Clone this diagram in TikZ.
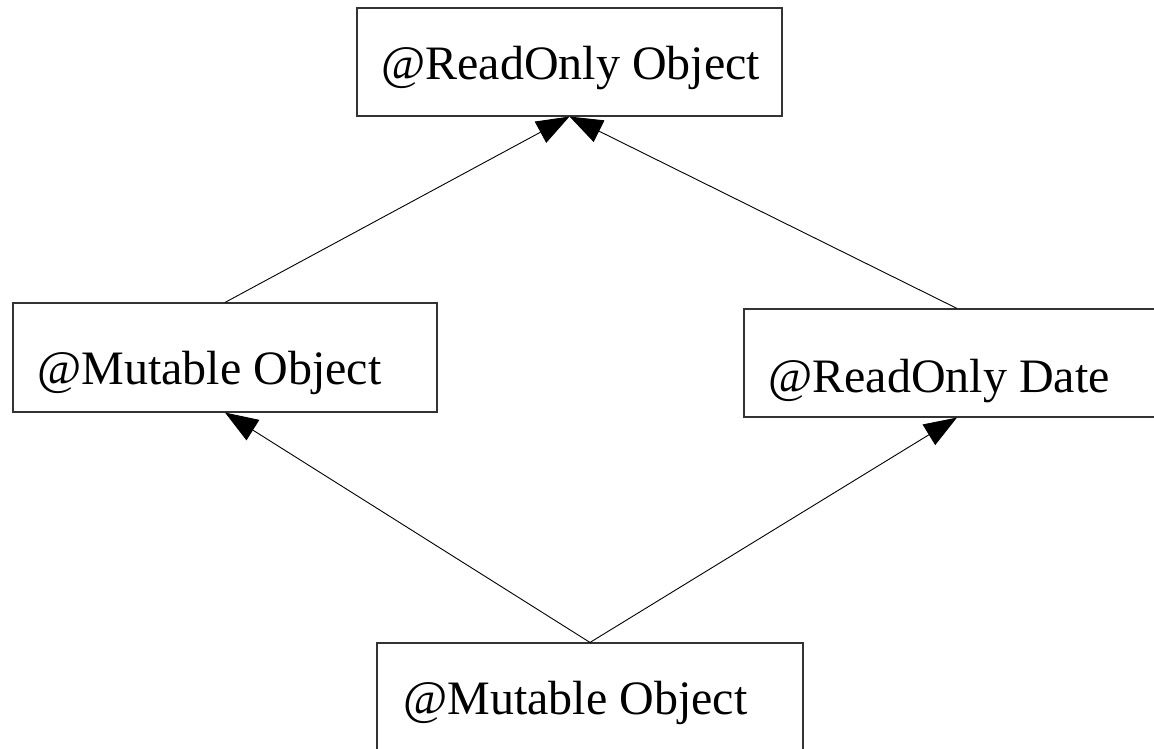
\documentclass[tikz,border=0pt]{standalone}
\usepackage{fontspec}
\setmainfont{Liberation Serif}
\usetikzlibrary{arrows.meta}
\begin{document}
\begin{tikzpicture}[x=1pt,y=-1pt,
  box/.style={draw=black!80,line width=1.1pt,fill=white,inner sep=0pt},
  lbl/.style={anchor=base west,inner sep=0pt,font=\fontsize{48}{56}\selectfont},
  edge/.style={draw=black,line width=0.9pt,-{Triangle[length=33pt,width=24pt]}}]
  \useasboundingbox (0,0) rectangle (1154,749);
  \clip (0,0) rectangle (1154,749);
  % class boxes
  \node[box,minimum width=425pt,minimum height=108pt] (top) at (569.5,62) {};
  \node[box,minimum width=424pt,minimum height=109pt] (left) at (225,357.5) {};
  \node[box,minimum width=426pt,minimum height=108pt] (right) at (957,363) {};
  \node[box,minimum width=426pt,minimum height=117pt] (bottom) at (590,701.5) {};
  % labels
  \node[lbl] (ttop) at (381,80) {@ReadOnly Object};
  \node[lbl] (tleft) at (37,384) {@Mutable Object};
  \node[lbl] (tright) at (768,392) {@ReadOnly Date};
  \node[lbl] (tbottom) at (403,714) {@Mutable Object};
  % inheritance arrows
  \draw[edge] (left.north) -- (top.south);
  \draw[edge] (right.north) -- (top.south);
  \draw[edge] (bottom.north) -- (left.south);
  \draw[edge] (bottom.north) -- (right.south);
\end{tikzpicture}
\end{document}
